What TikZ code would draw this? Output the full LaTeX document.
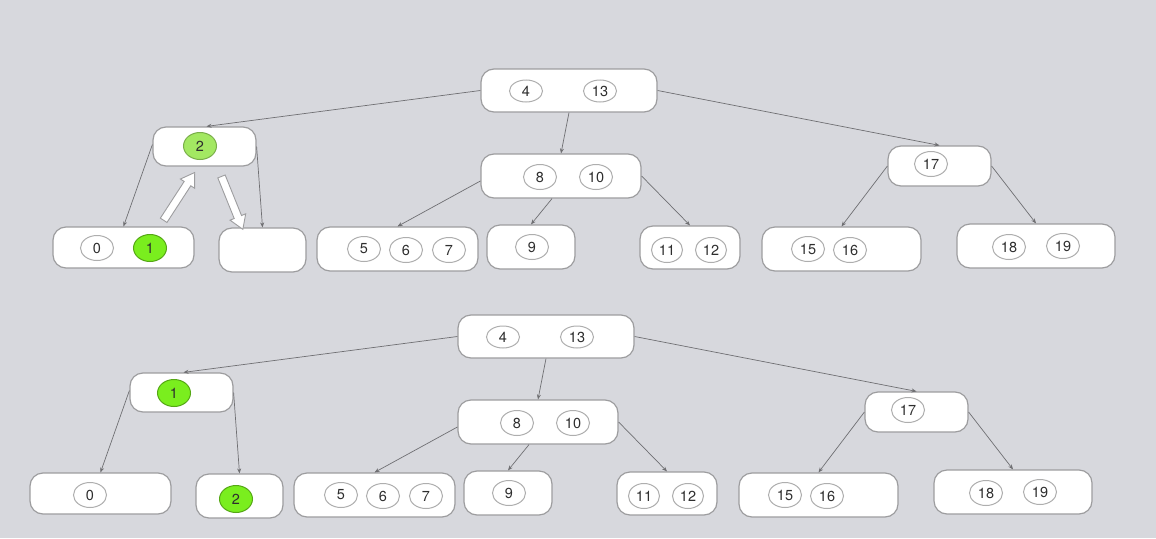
\documentclass[tikz,border=0pt]{standalone}
\usepackage{fontspec}
\setmainfont{TeX Gyre Heros}
\usepackage{xcolor}
\definecolor{bggray}{HTML}{D7D8DD}
\definecolor{boxline}{HTML}{9D9D9F}
\definecolor{keyline}{HTML}{AEAEAE}
\definecolor{edgegray}{HTML}{6F6F72}
\definecolor{keytext}{HTML}{2E2E2E}
\definecolor{softgreen}{HTML}{A3E862}
\definecolor{brightgreen}{HTML}{7AEE1E}
\usepackage{tikz}
\usetikzlibrary{arrows.meta, shapes.geometric, shapes.arrows, calc}
\tikzset{
  bnode/.style ={rectangle, rounded corners=13pt, draw=boxline, line width=1.2pt, fill=white,
                 minimum height=44pt, inner sep=0pt},
  bkey/.style  ={ellipse, draw=keyline, line width=1pt, fill=white, text=keytext, inner sep=0pt,
                 minimum width=33pt, minimum height=25pt, font=\fontsize{14.5}{14.5}\selectfont},
  bkeys/.style ={bkey, fill=softgreen, draw=softgreen!75!black},
  bkeyg/.style ={bkey, fill=brightgreen, draw=brightgreen!70!black},
  bedge/.style ={-{Stealth[length=5pt, width=4pt]}, draw=edgegray, line width=0.7pt},
  fatarrow/.style={single arrow, draw=boxline, fill=white, line width=0.9pt, inner sep=3.5pt,
                 single arrow head extend=4.5pt, single arrow tip angle=65, minimum height=57pt},
}
\begin{document}
\begin{tikzpicture}[x=1pt, y=-1pt]
  \fill[bggray] (0,0) rectangle (1156,538);
  \useasboundingbox (0,0) rectangle (1156,538);
  % both trees share this part; the lower one is shifted
  \foreach \t/\dx/\dy in {A/0/0,B/-23/246} {
    \begin{scope}[shift={(\dx,\dy)}]
      \node[bnode, minimum width=176pt, minimum height=43pt] (root\t) at (569,90.5) {};
      \node[bnode, minimum width=103pt, minimum height=39pt] (two\t) at (204.5,146.5) {};
      \node[bnode, minimum width=160pt] (mid\t) at (561,176) {};
      \node[bnode, minimum width=103pt, minimum height=40pt] (right\t) at (939.5,166) {};
      \node[bnode, minimum width=141pt, minimum height=41pt] (lzero\t) at (123.5,247.5) {};
      \node[bnode, minimum width=87pt] (lempty\t) at (262.5,250) {};
      \node[bnode, minimum width=161pt] (lfive\t) at (397.5,249) {};
      \node[bnode, minimum width=88pt] (lnine\t) at (531,247) {};
      \node[bnode, minimum width=100pt, minimum height=43pt] (leleven\t) at (690,247.5) {};
      \node[bnode, minimum width=159pt] (lfifteen\t) at (841.5,249) {};
      \node[bnode, minimum width=158pt] (leighteen\t) at (1036,246) {};
      % keys
      \node[bkey, minimum height=22pt] (kfour\t) at (526,91) {4};
      \node[bkey, minimum height=22pt] (kthirteen\t) at (600,91) {13};
      \node[bkey] (keight\t) at (540,177) {8};
      \node[bkey] (kten\t) at (596,177) {10};
      \node[bkey] (kseventeen\t) at (931,164) {17};
      \node[bkey] (kfive\t) at (364,249) {5};
      \node[bkey] (ksix\t) at (406,250) {6};
      \node[bkey] (kseven\t) at (449,250) {7};
      \node[bkey] (knine\t) at (532,247) {9};
      \node[bkey, minimum width=31pt] (keleven\t) at (667,250) {11};
      \node[bkey, minimum width=31pt] (ktwelve\t) at (711,250) {12};
      \node[bkey] (kfifteen\t) at (808,249) {15};
      \node[bkey] (ksixteen\t) at (850,250) {16};
      \node[bkey] (keighteen\t) at (1009,247) {18};
      \node[bkey] (knineteen\t) at (1063,246) {19};
      % edges
      \draw[bedge] (root\t.west) -- ([xshift=2pt]two\t.north);
      \draw[bedge] (root\t.south) -- (mid\t.north);
      \draw[bedge] (root\t.east) -- (right\t.north);
      \draw[bedge] ([yshift=2pt]two\t.west) -- (lzero\t.north);
      \draw[bedge] (two\t.east) -- (lempty\t.north);
      \draw[bedge] ([yshift=-5pt]mid\t.west) -- (lfive\t.north);
      \draw[bedge] ([xshift=-9pt]mid\t.south) -- (lnine\t.north);
      \draw[bedge] (mid\t.east) -- (leleven\t.north);
      \draw[bedge] (right\t.west) -- (lfifteen\t.north);
      \draw[bedge] (right\t.east) -- (leighteen\t.north);
    \end{scope}
  }
  % upper tree: 1 moves up, 2 moves down
  \node[bkeys, minimum height=27pt] (ktwoA) at (200,146) {2};
  \node[bkey] (kzeroA) at (97,248) {0};
  \node[bkeyg, minimum height=27pt] (koneA) at (150,248) {1};
  \coordinate (upS) at (162,223);
  \coordinate (upE) at (193,175);
  \coordinate (dnS) at (220,173);
  \coordinate (dnE) at (242,227);
  \node[fatarrow, rotate=57] (uparrow) at ($(upS)!0.5!(upE)$) {};
  \node[fatarrow, rotate=-68] (dnarrow) at ($(dnS)!0.5!(dnE)$) {};
  % lower tree after the split
  \node[bkeyg, minimum height=27pt] (koneB) at (174,393) {1};
  \node[bkey] (kzeroB) at (90,495) {0};
  \node[bkeyg, minimum height=27pt] (ktwoB) at (236,499) {2};
\end{tikzpicture}
\end{document}
